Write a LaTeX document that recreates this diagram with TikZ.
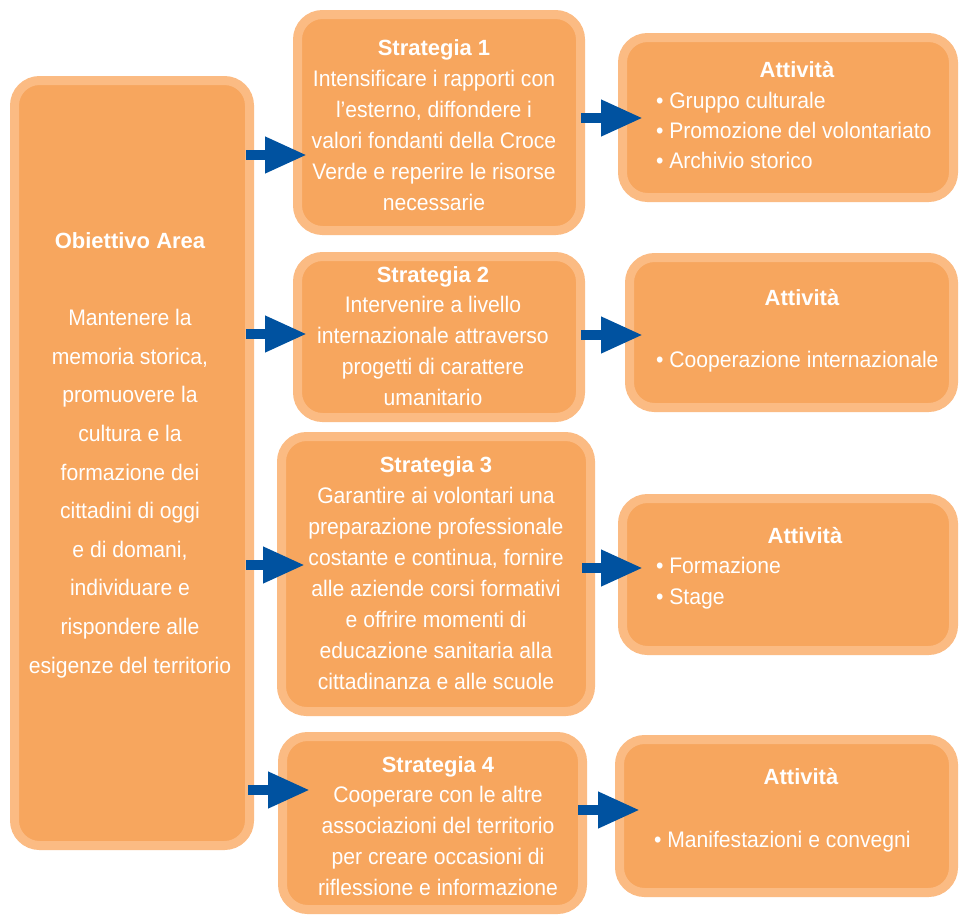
\documentclass[tikz,border=0pt]{standalone}
\usepackage{fontspec}
\setmainfont{Liberation Sans}[FakeStretch=0.94]
\newfontfamily\titlefont{Liberation Sans}
\usetikzlibrary{arrows.meta,calc}
\definecolor{boxfill}{RGB}{247,166,94}
\definecolor{boxedge}{RGB}{251,187,131}
\definecolor{arrowblue}{RGB}{0,82,160}
\newcommand{\ttl}[1]{{\titlefont\bfseries\fontsize{22}{30}\selectfont #1}}
\begin{document}
\begin{tikzpicture}[x=1pt,y=-1pt,
  box/.style={draw=boxedge, line width=9pt, fill=boxfill, rounded corners=25pt, outer sep=0pt, inner sep=0pt},
  txt/.style={text=white, inner sep=0pt, outer sep=0pt, align=center, anchor=base},
  lst/.style={text=white, inner sep=0pt, outer sep=0pt, align=left, anchor=base west},
  arr/.style={draw=arrowblue, line width=10pt, -{Triangle[length=42pt,width=34pt]}}]
\useasboundingbox (0,0) rectangle (960,916);
% boxes
\node[box, minimum width=235pt, minimum height=765pt] (L) at (132,463) {};
\node[box, minimum width=283pt, minimum height=216pt] (S1) at (439,122.5) {};
\node[box, minimum width=283pt, minimum height=161pt] (S2) at (439,337) {};
\node[box, minimum width=309pt, minimum height=275pt] (S3) at (436,574) {};
\node[box, minimum width=300pt, minimum height=173pt] (S4) at (432.5,823) {};
\node[box, minimum width=331pt, minimum height=160pt] (A1) at (788,117.5) {};
\node[box, minimum width=324pt, minimum height=150pt] (A2) at (791.5,332.5) {};
\node[box, minimum width=331pt, minimum height=152pt] (A3) at (788,574.5) {};
\node[box, minimum width=334pt, minimum height=153pt] (A4) at (786.5,816) {};
% texts (anchor = baseline of the last line)
\node[txt, font=\fontsize{22.5}{38.6}\selectfont] (Lt) at (130,673)
  {\ttl{Obiettivo Area}\\[38.6pt]Mantenere la\\memoria storica,\\promuovere la\\cultura e la\\formazione dei\\cittadini di oggi\\e di domani,\\individuare e\\rispondere alle\\esigenze del territorio};
\node[txt, font=\fontsize{22.5}{31}\selectfont] (S1t) at (434,210)
  {\ttl{Strategia 1}\\Intensificare i rapporti con\\l’esterno, diffondere i\\valori fondanti della Croce\\Verde e reperire le risorse\\necessarie};
\node[txt, font=\fontsize{22.5}{30.75}\selectfont] (S2t) at (433,405)
  {\ttl{Strategia 2}\\Intervenire a livello\\internazionale attraverso\\progetti di carattere\\umanitario};
\node[txt, font=\fontsize{22.5}{30.86}\selectfont] (S3t) at (436,689)
  {\ttl{Strategia 3}\\Garantire ai volontari una\\preparazione professionale\\costante e continua, fornire\\alle aziende corsi formativi\\e offrire momenti di\\educazione sanitaria alla\\cittadinanza e alle scuole};
\node[txt, font=\fontsize{22.5}{30.7}\selectfont] (S4t) at (438,895)
  {\ttl{Strategia 4}\\Cooperare con le altre\\associazioni del territorio\\per creare occasioni di\\riflessione e informazione};
\node[txt] (A1h) at (797,77) {\ttl{Attività}};
\node[lst, font=\fontsize{22.5}{30}\selectfont] (A1t) at (656,168)
  {• Gruppo culturale\\• Promozione del volontariato\\• Archivio storico};
\node[txt] (A2h) at (802,305) {\ttl{Attività}};
\node[lst, font=\fontsize{22.5}{30}\selectfont] (A2t) at (656,367)
  {• Cooperazione internazionale};
\node[txt] (A3h) at (805,543) {\ttl{Attività}};
\node[lst, font=\fontsize{22.5}{31}\selectfont] (A3t) at (656,604)
  {• Formazione\\• Stage};
\node[txt] (A4h) at (801,784) {\ttl{Attività}};
\node[lst, font=\fontsize{22.5}{30}\selectfont] (A4t) at (654,847)
  {• Manifestazioni e convegni};
% arrows
\draw[arr] ($(L.east |- 0,155)+(-3.5,0)$) -- ($(S1.west |- 0,155)+(9.5,0)$);
\draw[arr] ($(L.east |- 0,334)+(-3.5,0)$) -- ($(S2.west |- 0,334)+(9.5,0)$);
\draw[arr] ($(L.east |- 0,565)+(-3.5,0)$) -- ($(S3.west |- 0,565)+(23.5,0)$);
\draw[arr] ($(L.east |- 0,790)+(-1.5,0)$) -- ($(S4.west |- 0,790)+(27.5,0)$);
\draw[arr] ($(S1.east |- 0,118)+(0.5,0)$) -- ($(A1.west |- 0,118)+(20.5,0)$);
\draw[arr] ($(S2.east |- 0,335)+(0.5,0)$) -- ($(A2.west |- 0,335)+(13.5,0)$);
\draw[arr] ($(S3.east |- 0,568)+(-8.5,0)$) -- ($(A3.west |- 0,568)+(20.5,0)$);
\draw[arr] ($(S4.east |- 0,810)+(-4.5,0)$) -- ($(A4.west |- 0,810)+(20.5,0)$);
\end{tikzpicture}
\end{document}
